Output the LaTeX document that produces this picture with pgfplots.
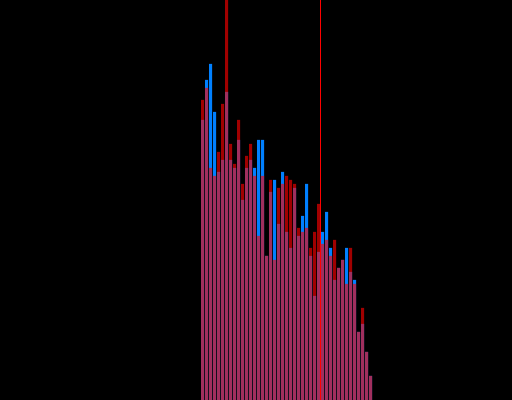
\documentclass[border=0pt]{standalone}
\usepackage{pgfplots}
\pgfplotsset{compat=1.18}
\usepackage{pgfplotstable}
\definecolor{hblue}{RGB}{0,128,255}
\definecolor{hred}{RGB}{255,0,0}
\pgfplotstableread{
i blue red
0 70 75
1 80 78
2 84 58
3 72 56
4 57 62
5 60 74
6 77 110
7 60 64
8 58 59
9 65 70
10 50 54
11 58 61
12 60 64
13 58 56
14 65 41
15 65 56
16 36 36
17 52 55
18 55 35
19 44 53
20 57 54
21 42 56
22 38 55
23 53 54
24 41 43
25 46 42
26 54 43
27 36 38
28 26 42
29 37 49
30 42 39
31 47 40
32 38 36
33 30 40
34 33 33
35 35 35
36 38 29
37 32 38
38 30 29
39 17 17
40 19 23
41 12 12
42 6 6
}\hist
\begin{document}
\begin{tikzpicture}
\begin{axis}[
  scale only axis, width=12.8cm, height=10cm,
  xmin=-50.625, xmax=77.375, ymin=0, ymax=100,
  axis lines=none, ticks=none,
  axis background/.style={fill=black},
]
\addplot[ybar, bar shift=0pt, bar width=0.75, fill=hblue, draw=none] table[x=i,y=blue]{\hist};
\addplot[ybar, bar shift=0pt, bar width=0.75, fill=hred, fill opacity=0.63, draw=none] table[x=i,y=red]{\hist};
\addplot[hred, line width=1.4pt] coordinates {(29.5,0) (29.5,100)};
\end{axis}
\end{tikzpicture}
\end{document}
